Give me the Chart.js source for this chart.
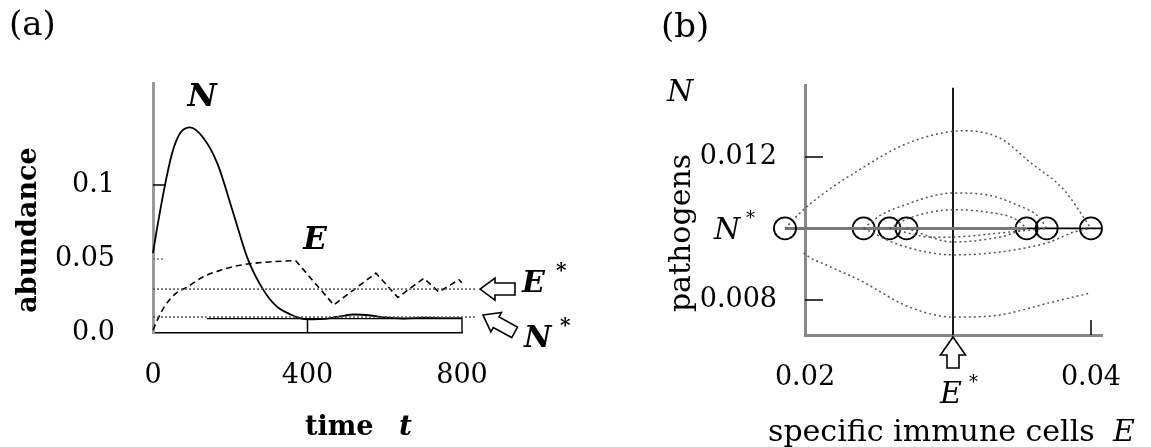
<!DOCTYPE html>
<html>
<head>
<meta charset="utf-8">
<script src="https://cdn.jsdelivr.net/npm/chart.js@4.4.1/dist/chart.umd.min.js"></script>
<style>
  html, body { margin: 0; padding: 0; background: #fff; }
  #wrap { position: relative; width: 1151px; height: 447px; overflow: hidden; }
  canvas { position: absolute; top: 0; }
  #ca { left: 0; }
  #cb { left: 580px; }
</style>
</head>
<body>
<div id="wrap">
  <canvas id="ca" width="580" height="447"></canvas>
  <canvas id="cb" width="571" height="447"></canvas>
</div>
<script>
// ---- panel (a): abundance over time ----
const timeN = [0, 10, 31, 50, 70, 96, 130, 166, 208, 244, 286, 320, 356, 380, 400, 440, 480, 520, 560, 600, 650, 700, 750, 800];
const valN = [0.054, 0.07, 0.1, 0.122, 0.135, 0.139, 0.132, 0.115, 0.081, 0.051, 0.029, 0.018, 0.0125, 0.010, 0.0092, 0.0095, 0.011, 0.0125, 0.012, 0.0105, 0.0098, 0.0103, 0.0100, 0.0101];
// E rises smoothly, then zigzags
const timeErise = [0, 10, 30, 60, 88, 130, 170, 210, 244, 300, 369];
const valErise = [0.002, 0.008, 0.018, 0.027, 0.031, 0.038, 0.042, 0.045, 0.0466, 0.048, 0.049];
const timeEzig = [369, 468, 577, 634, 701, 740, 792, 800];
const valEzig = [0.049, 0.019, 0.0405, 0.024, 0.037, 0.0277, 0.036, 0.034];
const eqLevelsA = [0.0297, 0.0108];   // E*, N*
const eqSpanA = [0, 839];
const boxT = [140, 800, 800];
const boxV = [0.0097, 0.0097, 0];
const xTicksA = [0, 400, 800];
const yTicksA = [0, 0.05, 0.1];
const yLabelsA = ["0.0", "0.05", "0.1"];

// ---- panel (b): phase plane ----
const xTicksB = [0.02, 0.04];
const yTicksB = [0.008, 0.012];
const eStarB = 0.03035;
const nStarB = 0.010;
const circleE = [0.0186, 0.0241, 0.0259, 0.0271, 0.0355, 0.0369, 0.0400];
const bigUpE = [0.0186, 0.0201, 0.0238, 0.0273, 0.0311, 0.0336, 0.0358, 0.0381, 0.0400];
const bigUpN = [0.0100, 0.0106, 0.01164, 0.0124, 0.01273, 0.01253, 0.01183, 0.01108, 0.0100];
const bigLowE = [0.0186, 0.0199, 0.0216, 0.0238, 0.0273, 0.0304, 0.0336, 0.0371, 0.0400];
const bigLowN = [0.0100, 0.00932, 0.00896, 0.00856, 0.0078, 0.00752, 0.00758, 0.00792, 0.0082];
const midUpE = [0.0241, 0.0252, 0.0266, 0.0304, 0.0327, 0.0348, 0.0364, 0.0369];
const midUpN = [0.0100, 0.01035, 0.0106, 0.01099, 0.01094, 0.01066, 0.0103, 0.0100];
const smallUpE = [0.0259, 0.0273, 0.0304, 0.0327, 0.0348, 0.0355];
const smallUpN = [0.0100, 0.01029, 0.01052, 0.01046, 0.01024, 0.0100];
const lowAE = [0.0271, 0.0304, 0.0336, 0.0348, 0.0355];
const lowAN = [0.0100, 0.00962, 0.00976, 0.0099, 0.0100];
const lowBE = [0.0241, 0.0266, 0.0304, 0.0336, 0.0371, 0.0388, 0.0400];
const lowBN = [0.0100, 0.00954, 0.00926, 0.00934, 0.00962, 0.0099, 0.0100];
const lowCE = [0.0259, 0.0290, 0.0313, 0.0343, 0.0369];
const lowCN = [0.0100, 0.00975, 0.00978, 0.0099, 0.0100];

const serif = '"DejaVu Serif", serif';
const pts = (xs, ys) => xs.map((x, i) => ({ x: x, y: ys[i] }));

function txt(ctx, s, x, y, font, align) {
  ctx.font = font;
  ctx.textAlign = align || "left";
  ctx.textBaseline = "middle";
  ctx.fillStyle = "#000";
  ctx.fillText(s, x, y);
}

// hollow block arrow, tip at (x, y), body going along +x after rotation
function hollowArrow(ctx, x, y, angle, len, headLen, headW, stemW) {
  ctx.save();
  ctx.translate(x, y);
  ctx.rotate(angle);
  ctx.beginPath();
  ctx.moveTo(0, 0);
  ctx.lineTo(headLen, -headW);
  ctx.lineTo(headLen, -stemW);
  ctx.lineTo(len, -stemW);
  ctx.lineTo(len, stemW);
  ctx.lineTo(headLen, stemW);
  ctx.lineTo(headLen, headW);
  ctx.closePath();
  ctx.fillStyle = "#fff";
  ctx.fill();
  ctx.lineWidth = 1.6;
  ctx.strokeStyle = "#000";
  ctx.stroke();
  ctx.restore();
}

const lineDs = (data, extra) => Object.assign({
  data: data, showLine: true, pointRadius: 0, borderColor: "#000",
  borderWidth: 1.6, clip: false
}, extra);

const panelA = {
  id: "panelA",
  afterDraw(chart) {
    const ctx = chart.ctx;
    const x = chart.scales.x, y = chart.scales.y;
    const left = chart.chartArea.left, bottom = chart.chartArea.bottom;
    ctx.save();
    // inward ticks
    ctx.strokeStyle = "#000";
    ctx.lineWidth = 1.5;
    ctx.beginPath();
    ctx.moveTo(left, y.getPixelForValue(0.1));
    ctx.lineTo(left + 13, y.getPixelForValue(0.1));
    ctx.moveTo(x.getPixelForValue(400), bottom);
    ctx.lineTo(x.getPixelForValue(400), bottom - 14);
    ctx.stroke();
    ctx.strokeStyle = "#777";
    ctx.setLineDash([2, 2]);
    ctx.beginPath();
    ctx.moveTo(left, y.getPixelForValue(0.05));
    ctx.lineTo(left + 11, y.getPixelForValue(0.05));
    ctx.stroke();
    ctx.setLineDash([]);

    txt(ctx, "(a)", 9, 26, "34px " + serif);
    ctx.save();
    ctx.translate(29, 230);
    ctx.rotate(-Math.PI / 2);
    txt(ctx, "abundance", 0, 0, "bold 27px " + serif, "center");
    ctx.restore();
    txt(ctx, "time", 305, 428, "bold 27px " + serif);
    txt(ctx, "t", 399, 428, "italic bold 28px " + serif);
    txt(ctx, "N", 202, 98, "italic bold 32px " + serif, "center");
    txt(ctx, "E", 315, 241, "italic bold 31px " + serif, "center");

    const xe = x.getPixelForValue(800);
    const yE = y.getPixelForValue(eqLevelsA[0]);
    const yN = y.getPixelForValue(eqLevelsA[1]);
    hollowArrow(ctx, xe + 18, yE, 0, 35, 15, 11, 6);
    hollowArrow(ctx, xe + 21, yN - 2, 0.5, 36, 15, 11, 6);
    txt(ctx, "E", 522, yE - 5, "italic bold 30px " + serif);
    txt(ctx, "*", 556, yE - 17, "bold 20px " + serif);
    txt(ctx, "N", 524, yN + 22, "italic bold 30px " + serif);
    txt(ctx, "*", 560, yN + 10, "bold 20px " + serif);
    ctx.restore();
  }
};

new Chart(document.getElementById("ca"), {
  type: "scatter",
  data: {
    datasets: [
      lineDs(pts(eqSpanA, [eqLevelsA[0], eqLevelsA[0]]), { borderColor: "#555", borderWidth: 1.5, borderDash: [2, 2] }),
      lineDs(pts(eqSpanA, [eqLevelsA[1], eqLevelsA[1]]), { borderColor: "#555", borderWidth: 1.5, borderDash: [2, 2] }),
      lineDs(pts(boxT, boxV), { borderWidth: 1.4 }),
      lineDs(pts(timeErise, valErise), { borderDash: [6, 4], cubicInterpolationMode: "monotone" }),
      lineDs(pts(timeEzig, valEzig), { borderDash: [6, 4], tension: 0 }),
      lineDs(pts(timeN, valN), { cubicInterpolationMode: "monotone", borderWidth: 1.8 })
    ]
  },
  options: {
    responsive: false,
    animation: false,
    events: [],
    layout: { padding: { left: 0, top: 83, right: 118, bottom: 0 } },
    plugins: { legend: { display: false }, tooltip: { enabled: false } },
    scales: {
      x: {
        type: "linear", min: 0, max: 800,
        grid: { display: false },
        border: { display: true, color: "#000", width: 1.6 },
        afterBuildTicks: s => { s.ticks = xTicksA.map(v => ({ value: v })); },
        afterFit: s => { s.height = 114; },
        ticks: { padding: 19, color: "#000", font: { family: serif, size: 27 } }
      },
      y: {
        type: "linear", min: 0, max: 0.169,
        grid: { display: false },
        border: { display: true, color: "#999", width: 3 },
        afterBuildTicks: s => { s.ticks = yTicksA.map(v => ({ value: v })); },
        afterFit: s => { s.width = 153; },
        ticks: { padding: 30, color: "#000", font: { family: serif, size: 27 },
                 callback: (v, i) => yLabelsA[i] }
      }
    }
  },
  plugins: [panelA]
});

const panelB = {
  id: "panelB",
  afterDatasetsDraw(chart) {
    // equilibrium circles left of the y axis are skipped by the point element, draw them here
    const ctx = chart.ctx;
    const x = chart.scales.x, y = chart.scales.y;
    ctx.save();
    ctx.strokeStyle = "#000";
    ctx.lineWidth = 1.8;
    circleE.filter(e => e < x.min).forEach(e => {
      ctx.beginPath();
      ctx.arc(x.getPixelForValue(e), y.getPixelForValue(nStarB), 11, 0, 2 * Math.PI);
      ctx.stroke();
    });
    ctx.restore();
  },
  afterDraw(chart) {
    const ctx = chart.ctx;
    const x = chart.scales.x, y = chart.scales.y;
    const left = chart.chartArea.left, bottom = chart.chartArea.bottom;
    ctx.save();
    ctx.strokeStyle = "#000";
    ctx.lineWidth = 1.5;
    ctx.beginPath();
    yTicksB.forEach(v => {
      ctx.moveTo(left, y.getPixelForValue(v));
      ctx.lineTo(left + 18, y.getPixelForValue(v));
    });
    ctx.moveTo(x.getPixelForValue(0.04), bottom);
    ctx.lineTo(x.getPixelForValue(0.04), bottom - 15);
    ctx.stroke();

    txt(ctx, "(b)", 81, 28, "34px " + serif);
    txt(ctx, "N", 100, 93, "italic 30px " + serif, "center");
    ctx.save();
    ctx.translate(102, 233);
    ctx.rotate(-Math.PI / 2);
    txt(ctx, "pathogens", 0, 0, "30px " + serif, "center");
    ctx.restore();
    const yS = y.getPixelForValue(nStarB);
    txt(ctx, "N", 134, yS + 3, "italic 30px " + serif);
    txt(ctx, "*", 166, yS - 9, "18px " + serif);

    const xs = x.getPixelForValue(eStarB);
    hollowArrow(ctx, xs, bottom + 2, Math.PI / 2, 31, 18, 12.5, 6);
    txt(ctx, "E", xs - 2, 395, "italic 30px " + serif, "center");
    txt(ctx, "*", xs + 16, 383, "18px " + serif);
    txt(ctx, "specific immune cells", 188, 433, "30px " + serif);
    txt(ctx, "E", 533, 433, "italic 30px " + serif);
    ctx.restore();
  }
};

const trajStyle = { borderColor: "#555", borderWidth: 1.5, borderDash: [2, 3], cubicInterpolationMode: "monotone" };

new Chart(document.getElementById("cb"), {
  type: "scatter",
  data: {
    datasets: [
      lineDs(pts(bigUpE, bigUpN), trajStyle),
      lineDs(pts(bigLowE, bigLowN), trajStyle),
      lineDs(pts(midUpE, midUpN), trajStyle),
      lineDs(pts(smallUpE, smallUpN), trajStyle),
      lineDs(pts(lowAE, lowAN), trajStyle),
      lineDs(pts(lowBE, lowBN), trajStyle),
      lineDs(pts(lowCE, lowCN), trajStyle),
      lineDs(pts([circleE[0], 0.0355], [nStarB, nStarB]), { borderColor: "#777", borderWidth: 3 }),
      lineDs(pts([0.0355, 0.04077], [nStarB, nStarB]), { borderWidth: 1.6 }),
      lineDs(pts([eStarB, eStarB], [0.00702, 0.01393]), { borderWidth: 1.8 }),
      {
        data: circleE.map(e => ({ x: e, y: nStarB })),
        showLine: false, clip: false,
        pointStyle: "circle", pointRadius: 11,
        pointBackgroundColor: "rgba(0,0,0,0)", pointBorderColor: "#000", pointBorderWidth: 1.8
      }
    ]
  },
  options: {
    responsive: false,
    animation: false,
    events: [],
    layout: { padding: { left: 0, top: 85, right: 49, bottom: 0 } },
    plugins: { legend: { display: false }, tooltip: { enabled: false } },
    scales: {
      x: {
        type: "linear", min: 0.02, max: 0.04077,
        grid: { display: false },
        border: { display: true, color: "#888", width: 3 },
        afterBuildTicks: s => { s.ticks = xTicksB.map(v => ({ value: v })); },
        afterFit: s => { s.height = 112; },
        ticks: { padding: 19, color: "#000", font: { family: serif, size: 27 },
                 callback: v => v.toFixed(2) }
      },
      y: {
        type: "linear", min: 0.00702, max: 0.01401,
        grid: { display: false },
        border: { display: true, color: "#888", width: 3 },
        afterBuildTicks: s => { s.ticks = yTicksB.map(v => ({ value: v })); },
        afterFit: s => { s.width = 225; },
        ticks: { padding: 20, color: "#000", font: { family: serif, size: 27 },
                 callback: v => v.toFixed(3) }
      }
    }
  },
  plugins: [panelB]
});
</script>
</body>
</html>
